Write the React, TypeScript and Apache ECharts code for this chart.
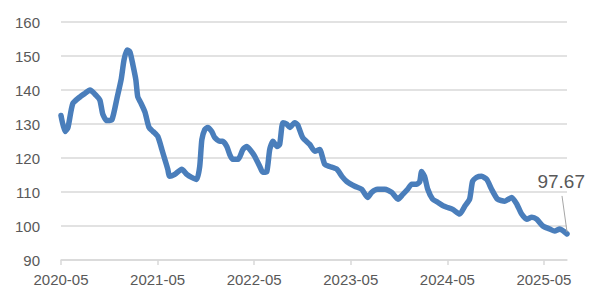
import React, { useEffect, useRef } from "react";
import * as echarts from "echarts";

const dates: string[] = [
  "2020-05-01","2020-05-16","2020-05-27","2020-06-15","2020-07-12","2020-07-30","2020-08-19","2020-09-11","2020-09-26","2020-10-07",
  "2020-10-22","2020-11-11","2020-11-30","2020-12-15","2020-12-26","2021-01-07","2021-01-18","2021-01-29","2021-02-10","2021-02-17",
  "2021-02-28","2021-03-14","2021-03-29","2021-04-14","2021-05-02","2021-05-17","2021-05-28","2021-06-09","2021-06-16","2021-07-05",
  "2021-08-01","2021-08-20","2021-09-08","2021-09-27","2021-10-08","2021-10-16","2021-10-27","2021-11-08","2021-11-23","2021-12-04",
  "2021-12-23","2022-01-04","2022-01-19","2022-01-30","2022-02-11","2022-03-01","2022-03-19","2022-04-03","2022-04-15","2022-05-03",
  "2022-05-22","2022-06-03","2022-06-18","2022-06-29","2022-07-11","2022-07-26","2022-08-06","2022-08-18","2022-09-02","2022-09-14",
  "2022-10-02","2022-10-13","2022-11-02","2022-11-28","2022-12-17","2023-01-05","2023-01-24","2023-02-12","2023-03-09","2023-03-28",
  "2023-04-16","2023-05-16","2023-06-12","2023-07-04","2023-07-19","2023-08-11","2023-09-08","2023-10-04","2023-10-27","2023-11-15",
  "2023-12-03","2023-12-18","2024-01-07","2024-01-18","2024-01-25","2024-02-06","2024-02-18","2024-03-06","2024-03-25","2024-04-14",
  "2024-04-29","2024-05-21","2024-06-17","2024-07-06","2024-07-24","2024-08-05","2024-08-20","2024-09-09","2024-09-28","2024-10-16",
  "2024-11-08","2024-12-05","2025-01-01","2025-01-20","2025-02-08","2025-02-27","2025-03-16","2025-04-04","2025-04-27","2025-05-23",
  "2025-06-11","2025-06-30","2025-07-19","2025-07-27"
];

const values: number[] = [
  132.5,127.8,129,136,138,139,140,138.5,137,132.8,
  131,131.3,137.7,143,148.9,151.8,151.2,147.4,143,138,
  136.3,133.5,129,127.8,126.3,122.5,119.6,116.7,114.6,115.2,
  116.7,115.2,114.3,113.7,117.5,125.4,128.4,129,127.8,126,
  124.9,124.9,123.4,121,119.6,119.6,122.5,123.4,122.5,120.5,
  117.5,115.8,116,122.5,124.9,123.4,124,130.4,130,129,
  130.4,129.8,126,124,122,122.5,118.1,117.5,116.7,114.6,
  113.1,111.7,110.8,108.4,109.9,110.8,110.8,109.9,107.9,109.3,
  110.8,112.3,112.3,113,116,114.6,110.8,107.9,107,106,
  105.5,104.9,103.5,105.8,107.9,113.1,114.3,114.6,113.7,110.8,
  107.9,107.3,108.4,106.4,103.5,102,102.6,102,100,99.1,
  98.5,99.1,98.2,97.67
];

const xTickLabels: string[] = ["2020-05", "2021-05", "2022-05", "2023-05", "2024-05", "2025-05"];
const yMin = 90;
const yMax = 160;
const yStep = 10;
const lastLabel = "97.67";

function monthOffset(d: string): number {
  const [y, m, day] = d.split("-").map(Number);
  return (y - 2020) * 12 + (m - 5) + (day - 1) / 30;
}

export default function App() {
  const ref = useRef<HTMLDivElement>(null);
  useEffect(() => {
    if (!ref.current) return;
    const chart = echarts.init(ref.current, undefined, { renderer: "svg" });
    const pts = dates.map((d, i) => [monthOffset(d), values[i]]);
    const xMax = pts[pts.length - 1][0];
    const gray = "#595959";
    chart.setOption({
      animation: false,
      grid: { left: 53, right: 19, top: 14, bottom: 35 },
      xAxis: {
        type: "value",
        min: 0,
        max: xMax,
        interval: 12,
        splitLine: { show: false },
        axisLine: { show: true, lineStyle: { color: "#d9d9d9", width: 1.5 } },
        axisTick: { show: true, length: 5, lineStyle: { color: "#d9d9d9", width: 1.5 } },
        axisLabel: {
          color: gray,
          fontSize: 15,
          fontFamily: "Liberation Sans",
          margin: 12,
          showMaxLabel: false,
          formatter: (v: number) => xTickLabels[Math.round(v / 12)] ?? "",
        },
      },
      yAxis: {
        type: "value",
        min: yMin,
        max: yMax,
        interval: yStep,
        axisLine: { show: false },
        axisTick: { show: false },
        splitLine: { lineStyle: { color: "#d9d9d9", width: 1.5 } },
        axisLabel: { color: gray, fontSize: 15, fontFamily: "Liberation Sans", margin: 21 },
      },
      series: [
        {
          type: "line",
          data: pts,
          showSymbol: false,
          symbol: "none",
          smooth: 0.2,
          lineStyle: { color: "#4A7EBB", width: 5.5, join: "round", cap: "round" },
        },
      ],
    });
    const last = pts[pts.length - 1];
    const p = chart.convertToPixel({ gridIndex: 0 }, last) as number[];
    chart.setOption({
      graphic: [
        {
          type: "line",
          shape: { x1: p[0] - 5, y1: p[1] - 38, x2: p[0], y2: p[1] - 2 },
          style: { stroke: "#a6a6a6", lineWidth: 1 },
          z: 10,
        },
        {
          type: "text",
          x: p[0] + 18,
          y: p[1] - 52,
          style: {
            text: lastLabel,
            fill: gray,
            fontSize: 19,
            fontFamily: "Liberation Sans",
            align: "right",
            verticalAlign: "middle",
          },
          z: 10,
        },
      ],
    });
    return () => chart.dispose();
  }, []);
  return <div ref={ref} style={{ width: 578, height: 287 }} />;
}
